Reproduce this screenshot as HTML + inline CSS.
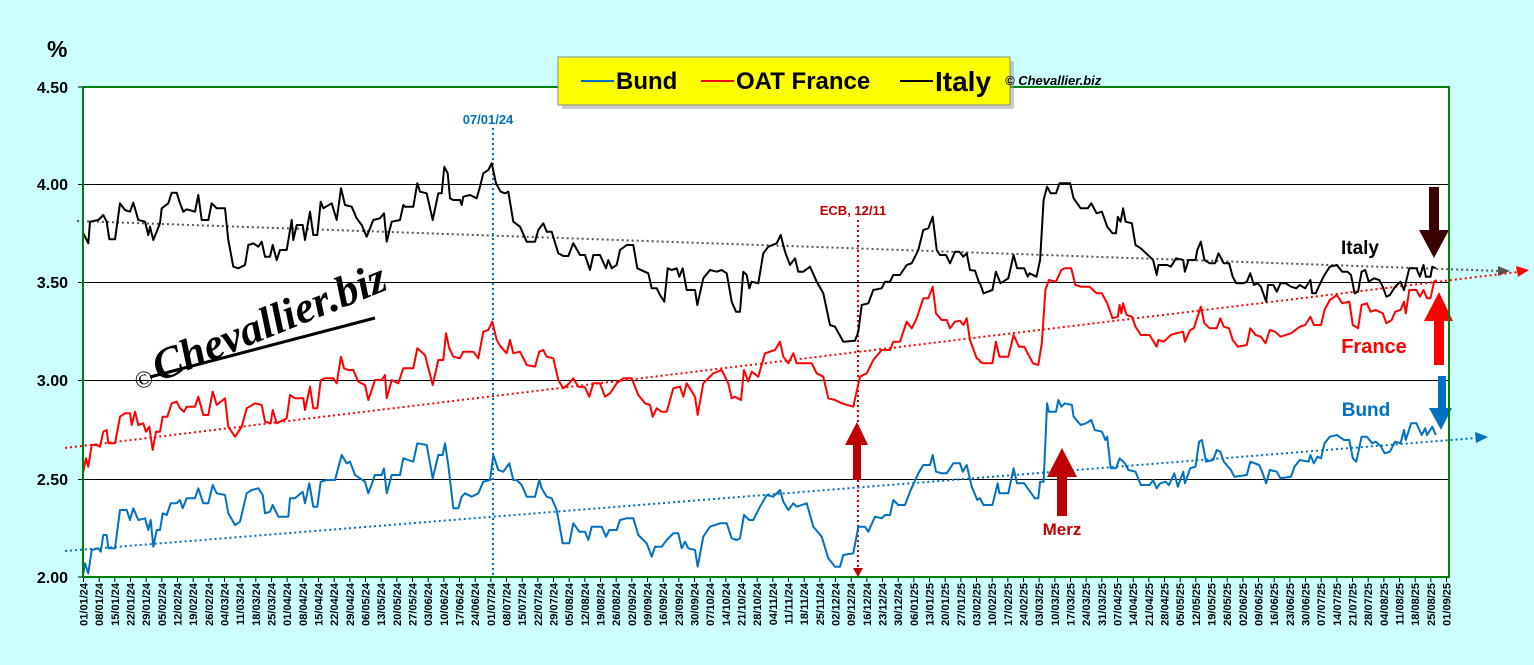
<!DOCTYPE html>
<html><head><meta charset="utf-8"><style>
html,body{margin:0;padding:0;background:#CCFFFF;}
svg{display:block;font-family:"Liberation Sans",Arial,sans-serif;}
</style></head><body>
<svg id="s" width="1534" height="665" viewBox="0 0 1534 665" xmlns="http://www.w3.org/2000/svg">
<rect x="0" y="0" width="1534" height="665" fill="#CCFFFF"/>
<rect x="83" y="87" width="1366" height="490" fill="#FFFFFF"/>
<g stroke="#000" stroke-width="1">
<line x1="83" y1="184.5" x2="1449" y2="184.5"/>
<line x1="83" y1="282.5" x2="1449" y2="282.5"/>
<line x1="83" y1="380.5" x2="1449" y2="380.5"/>
<line x1="83" y1="479.5" x2="1449" y2="479.5"/>
<line x1="78" y1="87" x2="83" y2="87"/><line x1="78" y1="184.5" x2="83" y2="184.5"/><line x1="78" y1="282.5" x2="83" y2="282.5"/><line x1="78" y1="380.5" x2="83" y2="380.5"/><line x1="78" y1="479.5" x2="83" y2="479.5"/><line x1="78" y1="577" x2="83" y2="577"/>
</g>
<g id="ticks" stroke="#000" stroke-width="1"></g>
<!-- watermark -->
<g transform="translate(270,322) rotate(-22)" font-family="'Liberation Serif',serif" font-style="italic" font-weight="bold">
<text x="-148" y="14" font-size="24" font-weight="normal">©</text>
<text x="-125" y="14" font-size="44">Chevallier.biz</text>
</g>
<line x1="150" y1="377" x2="375" y2="318" stroke="#000" stroke-width="3"/>
<!-- trend lines -->
<line x1="77" y1="221" x2="1500" y2="271" stroke="#555" stroke-width="2" stroke-dasharray="2,3"/>
<polygon points="1498,266 1510,271 1498,276" fill="#555"/>
<line x1="65" y1="448" x2="1518" y2="272" stroke="#FF0000" stroke-width="2" stroke-dasharray="2,3"/>
<polygon points="1516,266 1529,270 1518,277" fill="#FF0000"/>
<line x1="65" y1="551" x2="1476" y2="438" stroke="#0070C0" stroke-width="2" stroke-dasharray="2,3"/>
<polygon points="1475,432 1488,437 1476,443" fill="#0070C0"/>
<!-- vertical markers -->
<line x1="493" y1="128" x2="493" y2="577" stroke="#0070C0" stroke-width="2" stroke-dasharray="2,3"/>
<text x="488" y="124" font-size="13" font-weight="bold" fill="#0070C0" text-anchor="middle">07/01/24</text>
<line x1="858" y1="220" x2="858" y2="570" stroke="#C00000" stroke-width="2" stroke-dasharray="2,3"/>
<polygon points="853,568 863,568 858,577" fill="#C00000"/>
<text x="853" y="215" font-size="13" font-weight="bold" fill="#C00000" text-anchor="middle">ECB, 12/11</text>
<g id="series" fill="none" stroke-width="2" stroke-linejoin="round"></g>
<!-- arrows -->
<polygon points="853,480 861,480 861,445 868,445 857,422 845,445 853,445" fill="#C00000"/>
<polygon points="1057,516 1067,516 1067,477 1077,477 1062,448 1047,477 1057,477" fill="#C00000"/>
<text x="1062" y="535" font-size="17" font-weight="bold" fill="#C00000" text-anchor="middle">Merz</text>
<polygon points="1429,187 1439,187 1439,230 1449,230 1434,258 1419,230 1429,230" fill="#3B0000"/>
<polygon points="1434,365 1444,365 1444,321 1453,321 1439,292 1424,321 1434,321" fill="#FF0000"/>
<polygon points="1438,376 1446,376 1446,408 1452,408 1441,430 1429,408 1438,408" fill="#0070C0"/>
<text x="1360" y="254" font-size="19" font-weight="bold" fill="#000" text-anchor="middle">Italy</text>
<text x="1374" y="353" font-size="20" font-weight="bold" fill="#FF0000" text-anchor="middle">France</text>
<text x="1366" y="416" font-size="19" font-weight="bold" fill="#0070C0" text-anchor="middle">Bund</text>
<!-- border -->
<rect x="83" y="87" width="1366" height="490" fill="none" stroke="#008000" stroke-width="2"/>
<!-- legend -->
<rect x="562" y="61" width="452" height="48" fill="#999" opacity="0.5"/>
<rect x="558" y="57" width="452" height="48" fill="#FFFF00" stroke="#888" stroke-width="1"/>
<line x1="581" y1="81" x2="614" y2="81" stroke="#0070C0" stroke-width="2"/>
<text x="616" y="89" font-size="24" font-weight="bold">Bund</text>
<line x1="701" y1="81" x2="734" y2="81" stroke="#FF0000" stroke-width="2"/>
<text x="736" y="89" font-size="24" font-weight="bold">OAT France</text>
<line x1="900" y1="81" x2="933" y2="81" stroke="#000" stroke-width="2"/>
<text x="935" y="91" font-size="28" font-weight="bold">Italy</text>
<text x="1005" y="85" font-size="13" font-weight="bold" font-style="italic">© Chevallier.biz</text>
<!-- y labels -->
<g font-size="16" font-weight="bold" text-anchor="end">
<text x="68" y="93">4.50</text>
<text x="68" y="190">4.00</text>
<text x="68" y="288">3.50</text>
<text x="68" y="386">3.00</text>
<text x="68" y="485">2.50</text>
<text x="68" y="583">2.00</text>
</g>
<text x="47" y="57" font-size="23" font-weight="bold">%</text>
<g id="xl" font-size="11" font-weight="bold" text-anchor="end">
<text transform="translate(87.5,583) rotate(-90)">01/01/24</text>
<text transform="translate(103.2,583) rotate(-90)">08/01/24</text>
<text transform="translate(118.8,583) rotate(-90)">15/01/24</text>
<text transform="translate(134.5,583) rotate(-90)">22/01/24</text>
<text transform="translate(150.2,583) rotate(-90)">29/01/24</text>
<text transform="translate(165.8,583) rotate(-90)">05/02/24</text>
<text transform="translate(181.5,583) rotate(-90)">12/02/24</text>
<text transform="translate(197.2,583) rotate(-90)">19/02/24</text>
<text transform="translate(212.8,583) rotate(-90)">26/02/24</text>
<text transform="translate(228.5,583) rotate(-90)">04/03/24</text>
<text transform="translate(244.2,583) rotate(-90)">11/03/24</text>
<text transform="translate(259.8,583) rotate(-90)">18/03/24</text>
<text transform="translate(275.5,583) rotate(-90)">25/03/24</text>
<text transform="translate(291.2,583) rotate(-90)">01/04/24</text>
<text transform="translate(306.8,583) rotate(-90)">08/04/24</text>
<text transform="translate(322.5,583) rotate(-90)">15/04/24</text>
<text transform="translate(338.2,583) rotate(-90)">22/04/24</text>
<text transform="translate(353.8,583) rotate(-90)">29/04/24</text>
<text transform="translate(369.5,583) rotate(-90)">06/05/24</text>
<text transform="translate(385.2,583) rotate(-90)">13/05/24</text>
<text transform="translate(400.8,583) rotate(-90)">20/05/24</text>
<text transform="translate(416.5,583) rotate(-90)">27/05/24</text>
<text transform="translate(432.2,583) rotate(-90)">03/06/24</text>
<text transform="translate(447.8,583) rotate(-90)">10/06/24</text>
<text transform="translate(463.5,583) rotate(-90)">17/06/24</text>
<text transform="translate(479.2,583) rotate(-90)">24/06/24</text>
<text transform="translate(494.8,583) rotate(-90)">01/07/24</text>
<text transform="translate(510.5,583) rotate(-90)">08/07/24</text>
<text transform="translate(526.2,583) rotate(-90)">15/07/24</text>
<text transform="translate(541.8,583) rotate(-90)">22/07/24</text>
<text transform="translate(557.5,583) rotate(-90)">29/07/24</text>
<text transform="translate(573.2,583) rotate(-90)">05/08/24</text>
<text transform="translate(588.8,583) rotate(-90)">12/08/24</text>
<text transform="translate(604.5,583) rotate(-90)">19/08/24</text>
<text transform="translate(620.2,583) rotate(-90)">26/08/24</text>
<text transform="translate(635.8,583) rotate(-90)">02/09/24</text>
<text transform="translate(651.5,583) rotate(-90)">09/09/24</text>
<text transform="translate(667.2,583) rotate(-90)">16/09/24</text>
<text transform="translate(682.8,583) rotate(-90)">23/09/24</text>
<text transform="translate(698.5,583) rotate(-90)">30/09/24</text>
<text transform="translate(714.2,583) rotate(-90)">07/10/24</text>
<text transform="translate(729.8,583) rotate(-90)">14/10/24</text>
<text transform="translate(745.5,583) rotate(-90)">21/10/24</text>
<text transform="translate(761.2,583) rotate(-90)">28/10/24</text>
<text transform="translate(776.8,583) rotate(-90)">04/11/24</text>
<text transform="translate(792.5,583) rotate(-90)">11/11/24</text>
<text transform="translate(808.2,583) rotate(-90)">18/11/24</text>
<text transform="translate(823.8,583) rotate(-90)">25/11/24</text>
<text transform="translate(839.5,583) rotate(-90)">02/12/24</text>
<text transform="translate(855.2,583) rotate(-90)">09/12/24</text>
<text transform="translate(870.8,583) rotate(-90)">16/12/24</text>
<text transform="translate(886.5,583) rotate(-90)">23/12/24</text>
<text transform="translate(902.2,583) rotate(-90)">30/12/24</text>
<text transform="translate(917.8,583) rotate(-90)">06/01/25</text>
<text transform="translate(933.5,583) rotate(-90)">13/01/25</text>
<text transform="translate(949.2,583) rotate(-90)">20/01/25</text>
<text transform="translate(964.8,583) rotate(-90)">27/01/25</text>
<text transform="translate(980.5,583) rotate(-90)">03/02/25</text>
<text transform="translate(996.2,583) rotate(-90)">10/02/25</text>
<text transform="translate(1011.8,583) rotate(-90)">17/02/25</text>
<text transform="translate(1027.5,583) rotate(-90)">24/02/25</text>
<text transform="translate(1043.2,583) rotate(-90)">03/03/25</text>
<text transform="translate(1058.8,583) rotate(-90)">10/03/25</text>
<text transform="translate(1074.5,583) rotate(-90)">17/03/25</text>
<text transform="translate(1090.2,583) rotate(-90)">24/03/25</text>
<text transform="translate(1105.8,583) rotate(-90)">31/03/25</text>
<text transform="translate(1121.5,583) rotate(-90)">07/04/25</text>
<text transform="translate(1137.2,583) rotate(-90)">14/04/25</text>
<text transform="translate(1152.8,583) rotate(-90)">21/04/25</text>
<text transform="translate(1168.5,583) rotate(-90)">28/04/25</text>
<text transform="translate(1184.2,583) rotate(-90)">05/05/25</text>
<text transform="translate(1199.8,583) rotate(-90)">12/05/25</text>
<text transform="translate(1215.5,583) rotate(-90)">19/05/25</text>
<text transform="translate(1231.2,583) rotate(-90)">26/05/25</text>
<text transform="translate(1246.8,583) rotate(-90)">02/06/25</text>
<text transform="translate(1262.5,583) rotate(-90)">09/06/25</text>
<text transform="translate(1278.2,583) rotate(-90)">16/06/25</text>
<text transform="translate(1293.8,583) rotate(-90)">23/06/25</text>
<text transform="translate(1309.5,583) rotate(-90)">30/06/25</text>
<text transform="translate(1325.2,583) rotate(-90)">07/07/25</text>
<text transform="translate(1340.8,583) rotate(-90)">14/07/25</text>
<text transform="translate(1356.5,583) rotate(-90)">21/07/25</text>
<text transform="translate(1372.2,583) rotate(-90)">28/07/25</text>
<text transform="translate(1387.8,583) rotate(-90)">04/08/25</text>
<text transform="translate(1403.5,583) rotate(-90)">11/08/25</text>
<text transform="translate(1419.2,583) rotate(-90)">18/08/25</text>
<text transform="translate(1434.8,583) rotate(-90)">25/08/25</text>
<text transform="translate(1450.5,583) rotate(-90)">01/09/25</text>
</g>
</svg>
<script>
(function(){
var NS="http://www.w3.org/2000/svg";
var tk=document.getElementById("ticks");
for(var i=0;i<88;i++){var x=83.5+i*15.667;var l=document.createElementNS(NS,"line");l.setAttribute("x1",x);l.setAttribute("x2",x);l.setAttribute("y1",577);l.setAttribute("y2",582);tk.appendChild(l);}
function tr(a,ox,sx){return a.map(function(p){return [(p[0]/sx+ox).toFixed(1),(p[1]/3+150).toFixed(1)];});}
var It4=[[10,250],[25,280],[30,215],[55,210],[70,195],[80,215],[88,268],[105,268],[120,160],[135,180],[150,185],[160,158],[175,210],[195,215],[205,255],[210,230],[220,270],[240,220],[245,175],[265,160],[275,128],[290,128],[300,160],[310,185],[320,178],[345,185],[355,135],[365,210],[385,210],[395,160],[410,175],[435,175],[445,270],[460,350],[475,355],[495,345],[505,285],[520,280],[535,290],[545,275],[555,320],[570,320],[578,285],[590,330],[600,300],[620,300],[635,210],[640,270],[650,225],[668,225],[675,270],[690,185],[700,255],[712,255],[722,155],[730,175],[755,160],[770,210],[783,115],[795,165],[815,170],[830,205],[845,225],[860,260],[880,210],[900,205],[912,190],[920,275],[935,215],[960,210],[970,165],[975,170],[1000,170],[1012,100],[1020,125],[1040,130],[1058,210],[1075,130],[1085,130],[1093,50],[1103,70],[1110,145],[1120,150],[1140,150],[1145,165],[1150,140],[1170,135],[1190,145],[1200,110],[1210,70],[1225,60],[1235,40],[1248,100],[1262,125],[1275,130],[1285,125],[1300,215],[1320,230],[1340,275],[1365,275],[1375,240]];
var It5=[[70,220],[80,245],[95,245],[115,310],[130,318],[145,318],[160,280],[180,315],[195,315],[210,360],[220,315],[240,315],[258,355],[265,330],[275,355],[290,345],[300,300],[320,285],[340,285],[352,355],[385,370],[395,415],[410,415],[420,435],[433,455],[443,355],[455,360],[470,355],[478,380],[488,355],[500,420],[525,420],[532,465],[550,385],[570,360],[590,365],[605,360],[620,370],[635,455],[648,485],[660,485],[670,365],[680,375],[688,415],[695,395],[715,400],[730,310],[745,290],[770,280],[782,255],[795,305],[810,345],[825,325],[835,365],[850,365],[870,350],[890,395],[910,430],[930,525],[945,530],[970,575],[1005,572],[1015,545],[1025,465],[1045,460],[1060,420],[1085,415],[1095,395],[1110,395],[1120,375],[1140,375],[1160,345],[1175,340],[1195,300],[1210,240],[1225,235],[1238,200],[1250,300],[1260,315],[1278,315],[1290,340],[1305,305],[1318,305],[1330,320],[1340,310],[1350,360],[1365,362],[1378,400]];
var It6=[[0,400],[10,430],[35,420],[45,365],[58,400],[80,385],[95,315],[105,355],[125,355],[135,380],[140,370],[160,380],[170,330],[180,150],[190,110],[200,130],[215,130],[225,100],[255,100],[265,145],[285,175],[305,175],[315,160],[330,190],[345,185],[360,230],[375,250],[385,250],[390,200],[398,215],[405,175],[412,215],[430,220],[440,285],[455,295],[470,310],[490,330],[500,375],[505,345],[530,345],[540,350],[555,325],[575,330],[580,365],[590,330],[610,330],[615,300],[625,275],[635,330],[650,340],[665,340],[675,310],[690,340],[705,340],[715,380],[725,400],[745,400],[755,395],[765,370],[775,405],[785,400],[795,410],[810,455],[815,405],[830,405],[840,425],[850,400],[865,400],[880,410],[895,415],[905,405],[920,415],[935,390],[940,430],[950,430],[965,395],[975,375],[990,350],[1010,345],[1025,365],[1040,365],[1050,375],[1060,430],[1070,425],[1080,365],[1090,360],[1100,395],[1115,385],[1130,390],[1140,410],[1150,440],[1160,435],[1175,410],[1190,395],[1200,420],[1215,355],[1235,355],[1245,380],[1255,345],[1262,380],[1275,380],[1280,350],[1290,355]];
var Fr4=[[10,965],[18,925],[25,950],[35,885],[50,885],[60,890],[70,845],[80,840],[85,880],[105,880],[120,800],[135,790],[150,790],[155,825],[165,785],[175,825],[190,820],[198,845],[208,830],[218,900],[228,845],[240,845],[248,800],[262,800],[275,760],[290,755],[300,775],[312,785],[320,770],[345,770],[355,740],[370,795],[385,795],[398,725],[410,765],[435,745],[445,830],[465,860],[485,830],[500,775],[525,760],[545,765],[555,815],[572,820],[578,780],[590,820],[620,805],[630,735],[645,745],[670,745],[675,780],[690,710],[700,775],[712,775],[722,690],[735,685],[760,685],[770,700],[783,620],[792,655],[805,660],[820,660],[835,695],[855,705],[865,750],[885,690],[905,690],[915,675],[920,745],[935,690],[955,700],[970,655],[1000,655],[1012,595],[1035,615],[1058,705],[1075,630],[1090,630],[1098,550],[1108,595],[1120,620],[1140,625],[1150,605],[1180,605],[1195,625],[1210,545],[1225,540],[1237,515],[1250,570],[1262,590],[1280,610],[1290,570],[1300,610],[1320,605],[1340,645],[1365,650],[1378,605]];
var Fr5=[[70,600],[80,620],[100,625],[115,690],[130,715],[148,700],[160,685],[175,710],[195,712],[208,740],[220,700],[240,700],[255,740],[270,730],[290,700],[310,685],[335,685],[355,735],[375,760],[390,765],[398,800],[410,775],[425,785],[440,785],[460,715],[480,710],[490,740],[500,700],[525,740],[533,795],[550,700],[580,670],[605,660],[625,700],[635,745],[645,740],[663,750],[672,660],[685,695],[695,665],[715,680],[735,610],[765,600],[780,575],[790,620],[805,640],[820,610],[830,640],[875,640],[890,670],[910,680],[925,745],[945,750],[965,760],[1000,770],[1020,680],[1040,670],[1060,630],[1085,600],[1110,600],[1120,575],[1140,575],[1160,515],[1175,535],[1190,505],[1210,445],[1225,445],[1238,410],[1248,490],[1265,510],[1280,510],[1290,535],[1305,515],[1320,512],[1330,525],[1340,505],[1350,570],[1370,625],[1378,630]];
var Fr6=[[0,635],[10,640],[35,640],[45,575],[55,620],[80,620],[95,555],[110,590],[125,590],[150,640],[165,645],[175,580],[185,420],[195,390],[215,395],[230,360],[240,355],[258,355],[270,405],[285,410],[310,410],[320,420],[330,430],[345,430],[360,460],[375,505],[390,500],[395,465],[400,490],[405,460],[415,495],[430,500],[440,530],[455,555],[480,555],[500,590],[505,570],[520,575],[540,555],[555,550],[575,545],[580,575],[595,540],[605,535],[625,470],[635,520],[650,535],[670,535],[680,505],[690,530],[705,535],[715,570],[730,590],[755,585],[765,535],[780,555],[795,560],[808,580],[820,540],[835,545],[850,560],[880,550],[905,530],[920,525],[935,500],[945,525],[965,525],[975,480],[990,450],[1010,435],[1025,460],[1045,455],[1055,525],[1070,535],[1080,465],[1095,460],[1105,485],[1120,480],[1140,490],[1150,520],[1165,510],[1175,485],[1190,480],[1200,455],[1205,490],[1215,420],[1235,420],[1245,440],[1255,420],[1265,445],[1275,445],[1285,395],[1292,390]];
var Bu4=[[10,1270],[15,1240],[25,1270],[35,1200],[55,1195],[62,1205],[70,1155],[80,1155],[85,1195],[105,1195],[120,1080],[140,1080],[150,1110],[160,1075],[175,1110],[195,1105],[205,1140],[212,1110],[220,1190],[230,1140],[240,1140],[248,1090],[260,1095],[272,1060],[290,1060],[300,1050],[308,1075],[320,1045],[345,1045],[355,1015],[370,1060],[385,1060],[398,1005],[410,1030],[435,1035],[445,1090],[465,1125],[480,1115],[500,1030],[515,1020],[535,1015],[548,1035],[555,1090],[570,1085],[578,1065],[595,1100],[625,1100],[630,1045],[645,1045],[668,1025],[675,1060],[688,1000],[700,1070],[712,1070],[722,995],[740,990],[765,990],[785,915],[800,940],[810,935],[825,975],[840,985],[855,995],[865,1030],[885,975],[905,975],[912,955],[920,1030],[935,975],[960,975],[970,925],[1000,935],[1012,880],[1040,885],[1058,985],[1075,915],[1088,915],[1095,880],[1105,945],[1120,1075],[1135,1075],[1145,1040],[1155,1030],[1175,1040],[1195,1030],[1210,995],[1230,990],[1240,915],[1255,960],[1270,965],[1288,940],[1300,990],[1310,990],[1325,1005],[1340,1040],[1365,1040],[1378,990]];
var Bu5=[[65,1015],[80,1040],[95,1045],[110,1080],[128,1180],[148,1180],[160,1120],[178,1145],[195,1145],[205,1170],[215,1130],[245,1130],[258,1160],[268,1140],[290,1140],[300,1110],[320,1105],[340,1105],[355,1155],[380,1180],[395,1220],[405,1190],[425,1190],[440,1170],[460,1150],[475,1150],[485,1195],[495,1175],[505,1195],[525,1200],[533,1250],[550,1160],[570,1130],[600,1120],[620,1120],[635,1165],[650,1170],[660,1165],[672,1095],[688,1110],[700,1110],[720,1070],[740,1035],[760,1040],[780,1020],[790,1055],[805,1080],[820,1060],[830,1070],[860,1060],[880,1130],[905,1160],[925,1225],[945,1250],[960,1250],[970,1215],[1000,1210],[1015,1130],[1035,1130],[1045,1145],[1065,1100],[1085,1105],[1095,1095],[1110,1095],[1120,1050],[1135,1065],[1155,1065],[1170,1025],[1195,970],[1210,945],[1230,945],[1238,915],[1248,965],[1265,970],[1280,970],[1300,940],[1320,940],[1328,965],[1340,945],[1355,1010],[1372,1050],[1378,1045]];
var Bu6=[[0,1045],[10,1065],[35,1065],[50,1000],[55,1030],[80,1030],[95,955],[105,1000],[125,1000],[155,1045],[165,1045],[170,995],[180,995],[190,760],[195,785],[215,785],[222,750],[230,770],[240,760],[260,765],[265,800],[285,825],[300,820],[315,810],[325,840],[345,845],[355,870],[360,860],[370,955],[385,955],[395,925],[410,940],[420,960],[440,965],[455,1005],[480,1005],[490,990],[500,1015],[510,1000],[525,995],[535,1005],[550,970],[560,1010],[575,965],[580,1000],[595,955],[610,950],[620,875],[628,870],[640,935],[660,930],[670,900],[680,905],[690,935],[710,960],[720,980],[755,975],[765,935],[790,945],[800,970],[810,1000],[820,960],[840,965],[850,985],[880,980],[890,950],[905,930],[930,935],[935,915],[945,940],[955,920],[965,925],[975,880],[990,860],[1010,855],[1030,870],[1045,870],[1055,925],[1065,935],[1080,860],[1095,860],[1110,880],[1120,875],[1135,890],[1145,910],[1160,905],[1175,875],[1190,880],[1200,840],[1205,870],[1220,820],[1235,820],[1250,855],[1260,835],[1265,855],[1280,830],[1290,855]];
function mk(parts,col){var pts=[];parts.forEach(function(p){pts=pts.concat(tr(p[0],p[1],p[2]));});
var e=document.createElementNS(NS,"polyline");e.setAttribute("points",pts.map(function(q){return q.join(",");}).join(" "));e.setAttribute("stroke",col);document.getElementById("series").appendChild(e);}
mk([[Bu4,80,3],[Bu5,520,3],[Bu6,980,2.83]],"#0070C0");
mk([[Fr4,80,3],[Fr5,520,3],[Fr6,980,2.83]],"#FF0000");
mk([[It4,80,3],[It5,520,3],[It6,980,2.83]],"#000000");
})();
</script>
</body></html>
